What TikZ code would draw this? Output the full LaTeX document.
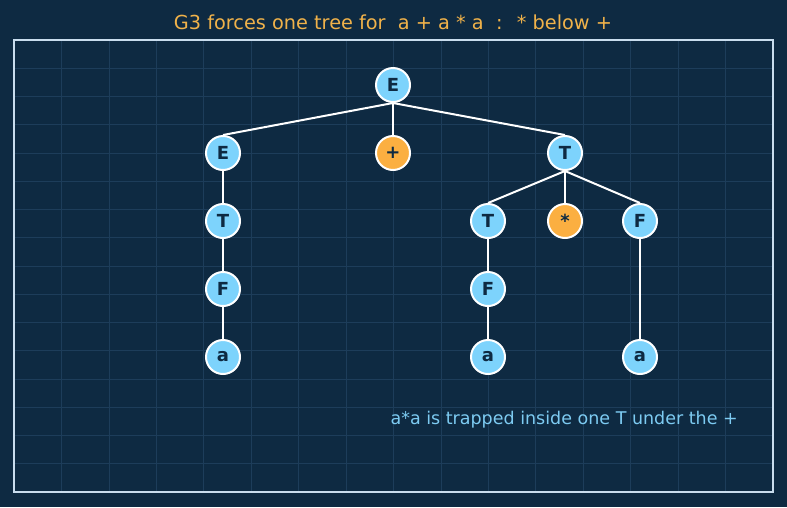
\documentclass[tikz,border=0pt]{standalone}
\usepackage{fontspec}
\setmainfont{DejaVu Sans}
\usepackage{tikz}
\usetikzlibrary{positioning}
\definecolor{bgnavy}{HTML}{0E2A42}
\definecolor{gridline}{HTML}{1D3D5A}
\definecolor{framecol}{HTML}{C9DDEE}
\definecolor{ntblue}{HTML}{7DD3FC}
\definecolor{tokorange}{HTML}{FBAF41}
\definecolor{inkdark}{HTML}{0E2A42}
\definecolor{titleorange}{HTML}{F0B24A}
\definecolor{notecol}{HTML}{7DCBF2}

\begin{document}
\begin{tikzpicture}[
  x=1pt, y=-1pt,
  font=\fontsize{17.5}{20}\selectfont,
  sym/.style={circle, draw=white, line width=2pt, minimum size=34pt, inner sep=0pt,
              fill=ntblue, text=inkdark, font=\fontsize{18}{20}\selectfont\bfseries},
  tok/.style={sym, fill=tokorange},
  edge/.style={draw=white, line width=2pt}
]
\fill[bgnavy] (0,0) rectangle (787,507);
\useasboundingbox (0,0) rectangle (787,507);
% grid
\foreach \i in {1,...,15} {
  \draw[gridline, line width=0.7pt] (14+\i*47.44,40) -- (14+\i*47.44,492);
  \draw[gridline, line width=0.7pt] (14,40+\i*28.25) -- (773,40+\i*28.25);
}
\draw[framecol, line width=1.4pt] (14,40) rectangle (773,492);

\node[text=titleorange, font=\fontsize{19.3}{21}\selectfont] (title) at (393,22) {G3 forces one tree for \ a + a * a \ : \ * below +};

\node[sym] (root) at (393,85) {E};
\node[sym] (e1) at (223,153) {E};
\node[tok] (plus) at (393,153) {+};
\node[sym] (t1) at (565,153) {T};
\node[sym] (t2) at (223,221) {T};
\node[sym] (t3) at (488,221) {T};
\node[tok] (star) at (565,221) {*};
\node[sym] (f3) at (640,221) {F};
\node[sym] (f1) at (223,289) {F};
\node[sym] (f2) at (488,289) {F};
\node[sym] (a1) at (223,357) {a};
\node[sym] (a2) at (488,357) {a};
\node[sym] (a3) at (640,357) {a};

\draw[edge] (root.south) -- (e1.north);
\draw[edge] (root.south) -- (plus.north);
\draw[edge] (root.south) -- (t1.north);
\draw[edge] (e1.south) -- (t2.north);
\draw[edge] (t2.south) -- (f1.north);
\draw[edge] (f1.south) -- (a1.north);
\draw[edge] (t1.south) -- (t3.north);
\draw[edge] (t1.south) -- (star.north);
\draw[edge] (t1.south) -- (f3.north);
\draw[edge] (t3.south) -- (f2.north);
\draw[edge] (f2.south) -- (a2.north);
\draw[edge] (f3.south) -- (a3.north);

\node[text=notecol, anchor=west] (note) at (387,420) {a*a is trapped inside one T under the +};
\end{tikzpicture}
\end{document}
